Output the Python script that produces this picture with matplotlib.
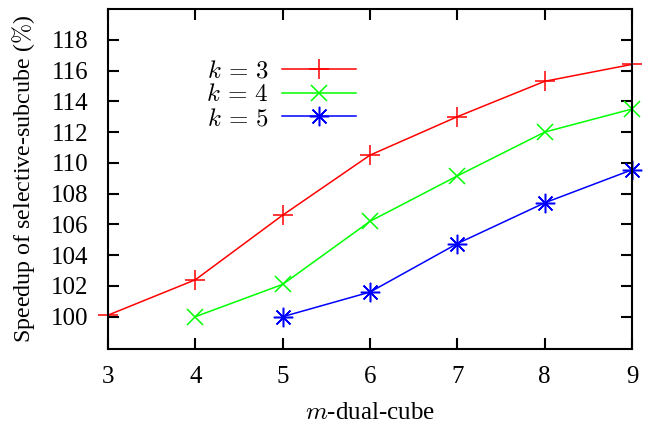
import matplotlib
matplotlib.use("Agg")
import matplotlib.pyplot as plt

plt.rcParams["font.family"] = ["Liberation Serif", "DejaVu Serif"]
plt.rcParams["mathtext.fontset"] = "cm"

# m-dual-cube dimension and speedup (%) per k
m_k3 = [3, 4, 5, 6, 7, 8, 9]
speedup_k3 = [100.1, 102.4, 106.6, 110.5, 113.0, 115.3, 116.4]

m_k4 = [4, 5, 6, 7, 8, 9]
speedup_k4 = [100.0, 102.1, 106.2, 109.15, 112.0, 113.5]

m_k5 = [5, 6, 7, 8, 9]
speedup_k5 = [100.0, 101.6, 104.75, 107.4, 109.55]

y_ticks = [100, 102, 104, 106, 108, 110, 112, 114, 116, 118]

fig = plt.figure(figsize=(6.46, 4.24), dpi=100)
ax = fig.add_axes([108 / 646, 1 - 349 / 424, (632 - 108) / 646, (349 - 9) / 424])

ax.plot(m_k3, speedup_k3, color="#ff0000", lw=1.1, marker="+", ms=14, mew=1.1,
        label=r"$k\,=\,3$", clip_on=False)
ax.plot(m_k4, speedup_k4, color="#00ff00", lw=1.1, marker="x", ms=12, mew=1.1,
        label=r"$k\,=\,4$", clip_on=False)
ax.plot(m_k5, speedup_k5, color="#0000ff", lw=1.1, marker=(8, 2, 0), ms=14, mew=1.1,
        label=r"$k\,=\,5$", clip_on=False)

ax.set_xlim(3, 9)
ax.set_ylim(97.9, 120)
ax.set_xticks(range(3, 10))
ax.set_yticks(y_ticks)
ax.tick_params(direction="in", length=8, width=1.5, top=True, right=True,
               labelsize=18)
ax.tick_params(axis="x", pad=12)
ax.tick_params(axis="y", pad=14)
for s in ax.spines.values():
    s.set_linewidth(1.5)

ax.set_xlabel("$m$-dual-cube", fontsize=18, labelpad=10)
ax.set_ylabel(r"Speedup of selective-subcube ($\%$)", fontsize=17.3, labelpad=10)

ax.legend(loc="center right", bbox_to_anchor=(356 / 646, 1 - 95 / 424),
          bbox_transform=fig.transFigure, frameon=False,
          markerfirst=False, fontsize=18, handlelength=2.95, handletextpad=0.55,
          labelspacing=0.05, borderpad=0, borderaxespad=0)

fig.savefig("out.png", dpi=100)
